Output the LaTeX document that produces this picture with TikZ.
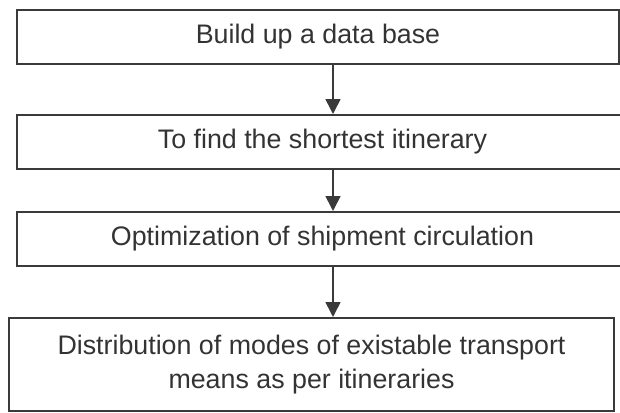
\documentclass[tikz,border=0pt]{standalone}
\usepackage{fontspec}
\setmainfont{Liberation Sans}
\usetikzlibrary{arrows.meta, positioning, calc}
\definecolor{BoxGray}{HTML}{3A3A3A}
\definecolor{TextGray}{HTML}{333333}

\begin{document}
\begin{tikzpicture}[x=0.5pt, y=-0.5pt,
    stage/.style={draw=BoxGray, line width=1pt, minimum height=27pt, inner sep=0pt,
        text=TextGray, font=\fontsize{13.4}{16.8}\selectfont, align=center},
    flow/.style={-{Triangle[length=7.5pt, width=7.5pt]}, line width=0.8pt, BoxGray}]
    \useasboundingbox (0,0) rectangle (620,412);
    % Steps of the procedure
    \node[stage, minimum width=301pt] (build) at (318,37) {Build up a data base};
    \node[stage, minimum width=305.5pt] (route) at (322.5,142) {To find the shortest itinerary};
    \node[stage, minimum width=305.5pt] (ship) at (322.5,239) {Optimization of shipment circulation};
    \node[stage, minimum width=302.5pt, minimum height=46.5pt] (modes) at (311.5,364.5)
        {Distribution of modes of existable transport\\means as per itineraries};
    % Arrows between the steps
    \coordinate (axis) at (333,0);
    \foreach \a/\b in {build/route, route/ship, ship/modes} {
        \draw[flow] (\a.south -| axis) -- (\b.north -| axis);
    }
\end{tikzpicture}
\end{document}
